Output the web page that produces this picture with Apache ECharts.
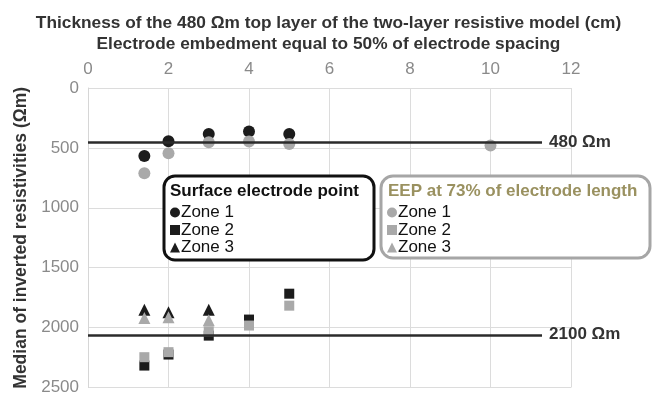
<!DOCTYPE html>
<html><head><meta charset="utf-8">
<script src="https://cdn.jsdelivr.net/npm/echarts@6/dist/echarts.min.js"></script>
<style>html,body{margin:0;padding:0;background:#fff}#c{width:657px;height:396px}</style>
</head><body><div id="c"></div>
<script>
// Thickness values (cm)
const thickness = [1.4, 2, 3, 4, 5];
const thickness3 = [1.4, 2, 3];
// Surface electrode point
const sepZone1 = [567, 445, 383, 364, 383];
const sepZone2 = [2317, 2225, 2067, 1933, 1717];
const sepZone3 = [1850, 1872, 1850];
// EEP at 73% of electrode length
const eepZone1X = [1.4, 2, 3, 4, 5, 10];
const eepZone1 = [711, 544, 453, 447, 467, 480];
const eepZone2 = [2247, 2205, 2031, 1983, 1817];
const eepZone3 = [1919, 1914, 1939];
// Reference lines
const refLevels = [455, 2060];
const refLabels = ['480 Ωm', '2100 Ωm'];
const refEnd = 11.28;
const xTicks = [0, 12, 2];
const yTicks = [0, 2500, 500];

const pair = (xs, ys) => xs.map((x, i) => [x, ys[i]]);
const BLACK = '#1c1c1c', GREY = '#a9a9a9';
const chart = echarts.init(document.getElementById('c'));
function sc(name, data, symbol, color, size) {
  return {name, type: 'scatter', data, symbol, symbolSize: size,
    itemStyle: {color, opacity: 1}, z: color === BLACK ? 3 : 4};
}
const series = [
  sc('S Zone 1', pair(thickness, sepZone1), 'circle', BLACK, 12),
  sc('S Zone 2', pair(thickness, sepZone2), 'rect', BLACK, 10),
  sc('S Zone 3', pair(thickness3, sepZone3), 'triangle', BLACK, 12),
  sc('E Zone 1', pair(eepZone1X, eepZone1), 'circle', GREY, 12),
  sc('E Zone 2', pair(thickness, eepZone2), 'rect', GREY, 10),
  sc('E Zone 3', pair(thickness3, eepZone3), 'triangle', GREY, 12),
  {type: 'line', data: [], silent: true, z: 2,
   markLine: {symbol: 'none', silent: true,
     lineStyle: {color: '#2b2b2b', width: 2.5, type: 'solid'},
     label: {position: 'end', color: '#333', fontWeight: 'bold', fontSize: 17,
             fontFamily: 'Liberation Sans, Arial', distance: 7, formatter: p => p.data.labelText},
     data: refLevels.map((v, i) => [{coord: [0, v], labelText: refLabels[i]}, {coord: [refEnd, v], labelText: refLabels[i]}])
   }}
];
const font = 'Liberation Sans, Arial, sans-serif';
const legendCommon = {orient: 'vertical', top: 204, itemWidth: 10, itemHeight: 10, itemGap: 0.5, padding: 0, z: 10,
  formatter: n => n.slice(2), textStyle: {fontSize: 17, color: '#111', padding: [0, 0, 0, -4]}};
chart.setOption({
  animation: false,
  textStyle: {fontFamily: font},
  title: {text: 'Thickness of the 480 Ωm top layer of the two-layer resistive model (cm)\nElectrode embedment equal to 50% of electrode spacing',
    left: 'center', top: 8,
    textStyle: {fontSize: 17.3, fontWeight: 'bold', color: '#333', lineHeight: 21, fontFamily: font}},
  grid: {left: 88, right: 86, top: 88, bottom: 8},
  xAxis: {type: 'value', position: 'top', min: xTicks[0], max: xTicks[1], interval: xTicks[2],
    axisLine: {show: false}, axisTick: {show: false},
    axisLabel: {color: '#8a8a8a', fontSize: 17, margin: 10},
    splitLine: {lineStyle: {color: '#dcdcdc', width: 1}}},
  yAxis: {type: 'value', inverse: true, min: yTicks[0], max: yTicks[1], interval: yTicks[2],
    name: 'Median of inverted resistivities (Ωm)', nameLocation: 'middle', nameGap: 55, nameRotate: 90,
    nameTextStyle: {fontSize: 17.5, fontWeight: 'bold', color: '#333'},
    axisLine: {show: true, lineStyle: {color: '#d6d6d6'}}, axisTick: {show: false},
    axisLabel: {color: '#8a8a8a', fontSize: 17, margin: 9, formatter: v => String(v)},
    splitLine: {lineStyle: {color: '#dcdcdc', width: 1}}},
  legend: [
    Object.assign({data: ['S Zone 1', 'S Zone 2', 'S Zone 3'], left: 170}, legendCommon),
    Object.assign({data: ['E Zone 1', 'E Zone 2', 'E Zone 3'], left: 387}, legendCommon)
  ],
  graphic: [
    {type: 'rect', shape: {x: 164, y: 176, width: 210, height: 84, r: 11},
     style: {fill: '#fff', stroke: '#111', lineWidth: 3}, z: 5},
    {type: 'text', left: 170, top: 183, z: 6,
     style: {text: 'Surface electrode point', font: 'bold 17px ' + font, fill: '#111'}},
    {type: 'rect', shape: {x: 381, y: 176, width: 269, height: 82, r: 12},
     style: {fill: '#fff', stroke: '#a6a6a6', lineWidth: 3}, z: 5},
    {type: 'text', left: 388, top: 183, z: 6,
     style: {text: 'EEP at 73% of electrode length', font: 'bold 17px ' + font, fill: '#9a9160'}}
  ],
  series
});
</script></body></html>
